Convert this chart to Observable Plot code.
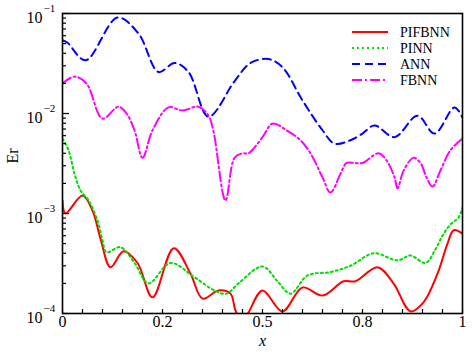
<!DOCTYPE html>
<html><head><meta charset="utf-8">
<script src="https://cdn.jsdelivr.net/npm/d3@7"></script>
<script src="https://cdn.jsdelivr.net/npm/@observablehq/plot@0.6"></script>
<style>body{margin:0;background:#fff} svg{display:block} #chart text{font-family:"Liberation Serif","Times New Roman",serif !important;}</style>
</head><body><div id="chart"></div>
<script>
// ---- data ----
const seriesNames = ["PIFBNN", "PINN", "ANN", "FBNN"];
const seriesColors = ["#ff0000", "#00dd00", "#0000ff", "#ff00ff"];
const seriesDash = [null, "2,3", "8,5", "10,3,2,3"];

const pifbnnX = [0, 0.0075, 0.05, 0.075, 0.095, 0.12, 0.1525, 0.1875, 0.225, 0.278, 0.32, 0.35, 0.39, 0.42, 0.4325, 0.45, 0.465, 0.5, 0.55, 0.6, 0.65, 0.7025, 0.7325, 0.7875, 0.8275, 0.87, 0.9025, 0.9375, 0.9625, 0.978, 1.0];
const pifbnnEr = [1.35e-3, 1.0e-3, 1.51e-3, 1.07e-3, 5.6e-4, 2.9e-4, 4.2e-4, 3.2e-4, 1.45e-4, 4.5e-4, 2.5e-4, 1.41e-4, 1.7e-4, 1.58e-4, 1.07e-4, 8.3e-5, 1.02e-4, 1.7e-4, 1.05e-4, 1.82e-4, 1.51e-4, 2.1e-4, 2.1e-4, 2.9e-4, 2.0e-4, 1.05e-4, 1.29e-4, 2.5e-4, 5.0e-4, 6.8e-4, 6.3e-4];

const pinnX = [0, 0.015, 0.03, 0.045, 0.065, 0.0875, 0.10, 0.11, 0.145, 0.18, 0.215, 0.27, 0.33, 0.38, 0.41, 0.44, 0.5, 0.5375, 0.57, 0.6125, 0.67, 0.72, 0.7775, 0.8375, 0.87, 0.9075, 0.9325, 0.95, 0.97, 0.99, 1.0];
const pinnEr = [5.6e-3, 4.3e-3, 2.5e-3, 1.7e-3, 1.35e-3, 8.5e-4, 5.4e-4, 4.1e-4, 4.6e-4, 3.2e-4, 2.0e-4, 3.2e-4, 2.3e-4, 1.7e-4, 1.58e-4, 2.0e-4, 2.95e-4, 2.1e-4, 1.58e-4, 2.4e-4, 2.6e-4, 3.0e-4, 4.0e-4, 3.4e-4, 3.8e-4, 3.2e-4, 4.4e-4, 6.0e-4, 7.8e-4, 9.1e-4, 1.15e-3];

const annX = [0, 0.0125, 0.0575, 0.1375, 0.19, 0.24, 0.28, 0.315, 0.365, 0.43, 0.47, 0.515, 0.55, 0.6, 0.65, 0.68, 0.72, 0.75, 0.78, 0.83, 0.8875, 0.93, 0.98, 1.0];
const annEr = [0.054, 0.051, 0.034, 0.091, 0.063, 0.026, 0.032, 0.026, 0.0093, 0.021, 0.032, 0.035, 0.029, 0.0135, 0.0068, 0.005, 0.0054, 0.0063, 0.0076, 0.0058, 0.0095, 0.0063, 0.0115, 0.0091];

const fbnnX = [0, 0.03, 0.06, 0.10, 0.14, 0.16, 0.18, 0.2, 0.225, 0.265, 0.30, 0.34, 0.365, 0.377, 0.4075, 0.43, 0.45, 0.465, 0.5, 0.525, 0.56, 0.595, 0.62, 0.65, 0.67, 0.695, 0.71, 0.73, 0.75, 0.79, 0.81, 0.83, 0.8375, 0.853, 0.8775, 0.895, 0.91, 0.925, 0.945, 0.97, 1.0];
const fbnnEr = [0.020, 0.0234, 0.020, 0.0089, 0.0117, 0.010, 0.0068, 0.0036, 0.0068, 0.0115, 0.0107, 0.0117, 0.0095, 0.0068, 0.00135, 0.0036, 0.004, 0.004, 0.0058, 0.0079, 0.0068, 0.0054, 0.004, 0.0023, 0.00162, 0.0025, 0.0032, 0.0032, 0.0032, 0.004, 0.0034, 0.0023, 0.00178, 0.0027, 0.0036, 0.0032, 0.0023, 0.00186, 0.0027, 0.0043, 0.0056];

const xTickValues = [0, 0.25, 0.5, 0.75, 1];
const xTickLabels = ["0", "0.2", "0.5", "0.8", "1"];
const yTickValues = [1e-4, 1e-3, 1e-2, 1e-1];
const yTickExponents = ["\u22124", "\u22123", "\u22122", "\u22121"];
const xLabel = "x";
const yLabel = "Er";

// ---- build ----
const seriesX = [pifbnnX, pinnX, annX, fbnnX];
const seriesY = [pifbnnEr, pinnEr, annEr, fbnnEr];
const xMinor = d3.range(0, 1.0001, 0.05);
const yMinor = [1e-4, 1e-3, 1e-2].flatMap(d => [2,3,4,5,6,7,8,9].map(k => k * d));
const font = "'Liberation Serif', 'Times New Roman', serif";

const lineMarks = seriesNames.map((name, s) =>
  Plot.line(seriesX[s].map((x, i) => ({x, y: seriesY[s][i]})), {
    x: "x", y: "y", curve: "catmull-rom", stroke: seriesColors[s], strokeWidth: 2,
    strokeDasharray: seriesDash[s], clip: true
  })
);

const chart = Plot.plot({
  width: 473, height: 360,
  marginLeft: 62, marginRight: 11, marginTop: 13, marginBottom: 47,
  style: {fontFamily: font, background: "#fff", color: "#000"},
  x: {domain: [0, 1], axis: null},
  y: {type: "log", domain: [1e-4, 1e-1], axis: null},
  marks: [
    ...lineMarks,
    Plot.tickX(xMinor, {x: d => d, stroke: "#000", strokeWidth: 1.2, insetTop: 296}),
    Plot.tickY(yMinor, {y: d => d, stroke: "#000", strokeWidth: 1.2, insetRight: 396}),
    Plot.tickY(yTickValues, {y: d => d, stroke: "#000", strokeWidth: 1.2, insetRight: 393}),
    Plot.frame({stroke: "#000", strokeWidth: 1.6}),
    Plot.text(xTickValues, {x: d => d, text: d => xTickLabels[xTickValues.indexOf(d)], frameAnchor: "bottom", dy: 13, fontSize: 16, fontFamily: font, fill: "#000"}),
    Plot.text(yTickValues, {y: d => d, text: () => "10", frameAnchor: "left", dx: -20, dy: 4, textAnchor: "end", fontSize: 16, fontFamily: font, fill: "#000"}),
    Plot.text(yTickValues, {y: d => d, text: d => yTickExponents[yTickValues.indexOf(d)], frameAnchor: "left", dx: -19, dy: -5, textAnchor: "start", fontSize: 11, fontFamily: font, fill: "#000"}),
    Plot.text([xLabel], {text: d => d, frameAnchor: "bottom", dy: 32, fontSize: 16, fontStyle: "italic", fontFamily: font, fill: "#000"}),
    Plot.text([yLabel], {text: d => d, frameAnchor: "left", dx: -50, rotate: -90, fontSize: 16, fontFamily: font, fill: "#000"})
  ]
});

// legend (inside plot, top right)
const svg = d3.select(chart);
const lg = svg.append("g").attr("font-family", font).attr("font-size", 14).attr("text-anchor", "start");
const legendY = [32, 48, 64, 80];
seriesNames.forEach((name, s) => {
  lg.append("line").attr("x1", 352).attr("x2", 388).attr("y1", legendY[s]).attr("y2", legendY[s])
    .attr("stroke", seriesColors[s]).attr("stroke-width", 2)
    .attr("stroke-dasharray", seriesDash[s]);
  lg.append("text").attr("x", 400).attr("y", legendY[s]).attr("dy", "0.35em")
    .attr("text-anchor", "start").attr("fill", "#000").text(name);
});
svg.selectAll("text").attr("font-family", font).style("font-family", "'Liberation Serif', 'Times New Roman', serif");

document.getElementById("chart").appendChild(chart);
</script>
</body></html>
